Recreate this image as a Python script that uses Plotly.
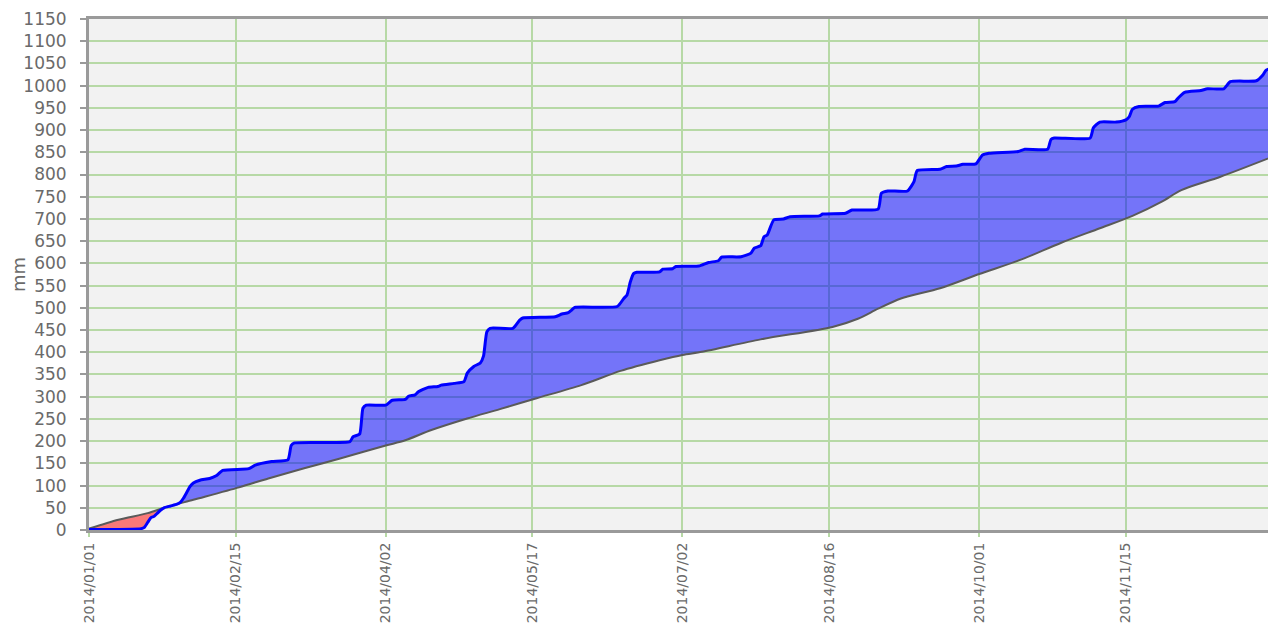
import plotly.graph_objects as go

# Cumulative actual rainfall (mm)
actual_dates = [
    "2014-01-01", "2014-01-17", "2014-01-18", "2014-01-19", "2014-01-20", "2014-01-21",
    "2014-01-22", "2014-01-23", "2014-01-24", "2014-01-26", "2014-01-28", "2014-01-29",
    "2014-01-30", "2014-01-31", "2014-02-01", "2014-02-02", "2014-02-04", "2014-02-07",
    "2014-02-09", "2014-02-11", "2014-02-19", "2014-02-21", "2014-02-26", "2014-03-03",
    "2014-03-04", "2014-03-05", "2014-03-22", "2014-03-23", "2014-03-25", "2014-03-26",
    "2014-03-27", "2014-04-02", "2014-04-04", "2014-04-08", "2014-04-09", "2014-04-11",
    "2014-04-12", "2014-04-15", "2014-04-18", "2014-04-19", "2014-04-23", "2014-04-26",
    "2014-04-27", "2014-04-29", "2014-05-01", "2014-05-02", "2014-05-03", "2014-05-04",
    "2014-05-11", "2014-05-13", "2014-05-14", "2014-05-24", "2014-05-26", "2014-05-28",
    "2014-05-29", "2014-05-30", "2014-06-12", "2014-06-14", "2014-06-15", "2014-06-16",
    "2014-06-17", "2014-06-18", "2014-06-25", "2014-06-26", "2014-06-29", "2014-06-30",
    "2014-07-07", "2014-07-10", "2014-07-13", "2014-07-14", "2014-07-20", "2014-07-23",
    "2014-07-24", "2014-07-26", "2014-07-27", "2014-07-28", "2014-07-30", "2014-08-02",
    "2014-08-04", "2014-08-13", "2014-08-14", "2014-08-21", "2014-08-23", "2014-08-31",
    "2014-09-01", "2014-09-03", "2014-09-09", "2014-09-11", "2014-09-12", "2014-09-19",
    "2014-09-21", "2014-09-24", "2014-09-26", "2014-09-30", "2014-10-02", "2014-10-04",
    "2014-10-13", "2014-10-15", "2014-10-22", "2014-10-23", "2014-10-24", "2014-11-04",
    "2014-11-05", "2014-11-07", "2014-11-12", "2014-11-15", "2014-11-16", "2014-11-17",
    "2014-11-19", "2014-11-25", "2014-11-27", "2014-11-30", "2014-12-01", "2014-12-03",
    "2014-12-08", "2014-12-10", "2014-12-15", "2014-12-17", "2014-12-25", "2014-12-27",
    "2014-12-28", "2014-12-31",
]
actual_mm = [
    1, 3, 6, 17, 28, 31,
    38, 45, 50, 54, 58, 62,
    72, 85, 98, 106, 112, 116,
    122, 134, 138, 146, 154, 158,
    190, 196, 199, 210, 216, 274,
    281, 281, 292, 294, 301, 304,
    311, 321, 323, 326, 330, 334,
    353, 368, 376, 392, 446, 454,
    454, 472, 477, 480, 486, 489,
    495, 501, 503, 521, 529, 558,
    577, 580, 581, 587, 588, 593,
    594, 602, 606, 614, 615, 623,
    634, 640, 660, 664, 698, 700,
    705, 707, 711, 713, 720, 722,
    758, 763, 763, 784, 809, 812,
    818, 819, 823, 824, 844, 848,
    852, 857, 857, 879, 882, 882,
    905, 918, 918, 923, 930, 947,
    953, 954, 962, 964, 972, 985,
    989, 993, 993, 1009, 1011, 1024,
    1035, 1042,
]

# Cumulative normal rainfall (mm)
normal_dates = [
    "2014-01-01", "2014-01-10", "2014-01-19", "2014-01-24", "2014-02-02", "2014-02-16",
    "2014-02-25", "2014-03-08", "2014-03-19", "2014-04-02", "2014-04-08", "2014-04-16",
    "2014-04-27", "2014-05-07", "2014-05-18", "2014-06-01", "2014-06-13", "2014-06-25",
    "2014-07-02", "2014-07-08", "2014-07-26", "2014-08-17", "2014-08-25", "2014-08-31",
    "2014-09-07", "2014-09-19", "2014-10-01", "2014-10-14", "2014-10-26", "2014-11-07",
    "2014-11-17", "2014-11-26", "2014-12-02", "2014-12-14", "2014-12-31",
]
normal_mm = [
    3, 23, 38, 50, 68, 96,
    116, 139, 161, 190, 202, 225,
    251, 272, 296, 326, 358, 382,
    394, 401, 429, 457, 476, 498,
    521, 544, 576, 609, 646, 679,
    707, 739, 765, 795, 843,
]

cross_date = "2014-01-24"  # where actual overtakes normal

tick_vals = ["2014-01-01", "2014-02-15", "2014-04-02", "2014-05-17", "2014-07-02",
             "2014-08-16", "2014-10-01", "2014-11-15", "2014-12-31"]
tick_text = ["2014/01/01", "2014/02/15", "2014/04/02", "2014/05/17", "2014/07/02",
             "2014/08/16", "2014/10/01", "2014/11/15", "2014/12/31"]
y_ticks = list(range(0, 1151, 50))

ia = actual_dates.index(cross_date)
inn = normal_dates.index(cross_date)

n_line = dict(shape="spline", smoothing=0.8)
a_line = dict(shape="spline", smoothing=0.5)

fig = go.Figure()
# deficit (red) region
fig.add_trace(go.Scatter(x=normal_dates[:inn + 1], y=normal_mm[:inn + 1], mode="lines",
                         line=dict(width=0, **n_line), hoverinfo="skip", showlegend=False))
fig.add_trace(go.Scatter(x=actual_dates[:ia + 1], y=actual_mm[:ia + 1], mode="lines",
                         line=dict(width=0, **a_line), fill="tonexty",
                         fillcolor="rgba(255,0,0,0.5)", hoverinfo="skip", showlegend=False))
# surplus (blue) region
fig.add_trace(go.Scatter(x=normal_dates[inn:], y=normal_mm[inn:], mode="lines",
                         line=dict(width=0, **n_line), hoverinfo="skip", showlegend=False))
fig.add_trace(go.Scatter(x=actual_dates[ia:], y=actual_mm[ia:], mode="lines",
                         line=dict(width=0, **a_line), fill="tonexty",
                         fillcolor="rgba(0,0,255,0.52)", hoverinfo="skip", showlegend=False))
# lines
fig.add_trace(go.Scatter(x=normal_dates, y=normal_mm, mode="lines", name="normal",
                         line=dict(color="#5a5a5a", width=2, **n_line), showlegend=False))
fig.add_trace(go.Scatter(x=actual_dates, y=actual_mm, mode="lines", name="actual",
                         line=dict(color="#0000ff", width=3, **a_line), showlegend=False))

grid_col = "#b7d9a6"
axis_col = "#9a9a9a"
# page body adds an 8px offset, so the figure is sized to compensate
fig.update_layout(
    width=1268, height=626,
    margin=dict(l=81, r=0, t=11, b=104),
    paper_bgcolor="white",
    plot_bgcolor="#f2f2f2",
    font=dict(family="DejaVu Sans", color="#6a6a6a"),
    xaxis=dict(
        type="date",
        range=["2014-01-01", "2014-12-31 00:30"],
        tickmode="array", tickvals=tick_vals, ticktext=tick_text,
        tickangle=-90,
        tickfont=dict(size=14, color="#6a6a6a"),
        ticklabeloverflow="allow",
        showgrid=True, gridcolor=grid_col, gridwidth=1.5,
        showline=True, linecolor=axis_col, linewidth=3, mirror=True,
        ticks="outside", ticklen=4, tickcolor=grid_col, tickwidth=1.5,
        zeroline=False, automargin=False,
    ),
    yaxis=dict(
        range=[0, 1150],
        tickmode="array", tickvals=y_ticks,
        tickfont=dict(size=17, color="#6a6a6a"),
        ticklabelstandoff=10,
        showgrid=True, gridcolor=grid_col, gridwidth=1.5,
        showline=True, linecolor=axis_col, linewidth=3,
        ticks="outside", ticklen=6, tickcolor=axis_col, tickwidth=1.5,
        zeroline=False, automargin=False,
        title=dict(text="mm", font=dict(size=18, color="#6a6a6a"), standoff=2),
    ),
)

fig.write_html("out.html")
